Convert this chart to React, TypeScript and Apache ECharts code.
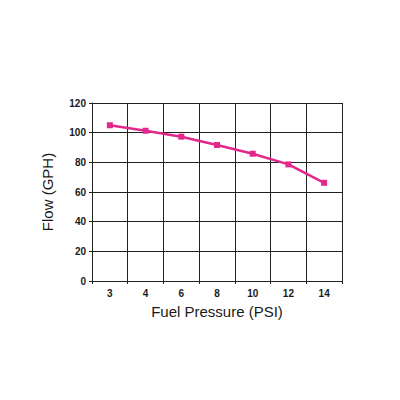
import React, { useRef, useEffect } from 'react'
import * as echarts from 'echarts'

const pressures = ['3', '4', '6', '8', '10', '12', '14']
const flows = [105, 101.3, 97.3, 91.7, 85.8, 78.6, 66.2]

function App() {
  const chartRef = useRef(null)

  useEffect(() => {
    const chart = echarts.init(chartRef.current, null, { renderer: 'svg' })

    const font = 'Liberation Sans, Arial, sans-serif'
    const option = {
      animation: false,
      backgroundColor: '#fff',
      textStyle: { fontFamily: font },
      grid: { left: 92, right: 58, top: 103, bottom: 119 },
      xAxis: {
        type: 'category',
        data: pressures,
        boundaryGap: true,
        name: 'Fuel Pressure (PSI)',
        nameLocation: 'middle',
        nameGap: 23,
        nameTextStyle: { fontSize: 15, color: '#1a1a1a', fontFamily: font },
        axisLine: { lineStyle: { color: '#222', width: 1 } },
        axisTick: { show: true, length: 3, lineStyle: { color: '#222' } },
        axisLabel: { fontSize: 10, fontWeight: 'bold', color: '#1a1a1a', margin: 7 },
        splitLine: { show: true, interval: 0, lineStyle: { color: '#222', width: 1 } },
      },
      yAxis: {
        type: 'value',
        min: 0,
        max: 120,
        interval: 20,
        name: 'Flow (GPH)',
        nameLocation: 'middle',
        nameGap: 37,
        nameTextStyle: { fontSize: 15, color: '#1a1a1a', fontFamily: font },
        axisLine: { show: true, lineStyle: { color: '#222', width: 1 } },
        axisTick: { show: true, length: 3, lineStyle: { color: '#222' } },
        axisLabel: { fontSize: 10, fontWeight: 'bold', color: '#1a1a1a', margin: 6 },
        splitLine: { show: true, lineStyle: { color: '#222', width: 1 } },
      },
      series: [
        {
          type: 'line',
          data: flows,
          symbol: 'rect',
          symbolSize: 6,
          itemStyle: { color: '#e2288c' },
          lineStyle: { color: '#e2288c', width: 2.5 },
        },
      ],
    }

    chart.setOption(option)

    return () => {
      chart.dispose()
    }
  }, [])

  return <div ref={chartRef} style={{ width: 400, height: 400, margin: -8 }}></div>
}

export default App
